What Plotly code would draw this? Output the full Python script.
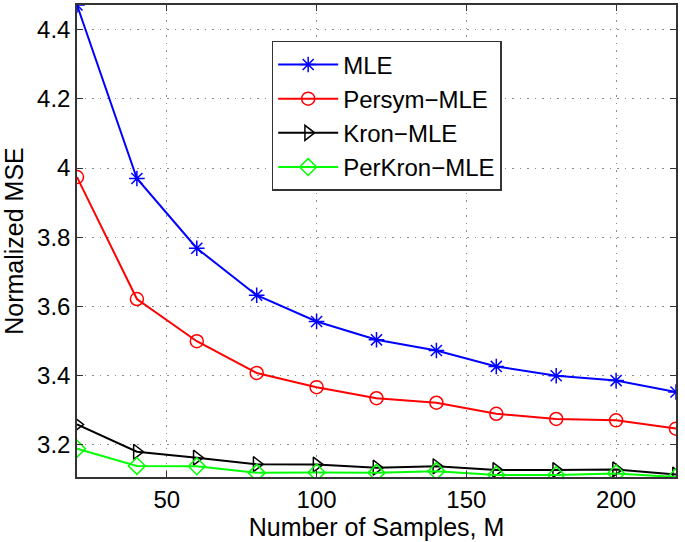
import plotly.graph_objects as go

samples = [20, 40, 60, 80, 100, 120, 140, 160, 180, 200, 220]

mle = [4.472, 3.970, 3.768, 3.632, 3.556, 3.503, 3.472, 3.426, 3.399, 3.385, 3.352]
persym_mle = [3.974, 3.621, 3.499, 3.407, 3.366, 3.334, 3.321, 3.289, 3.274, 3.270, 3.246]
kron_mle = [3.258, 3.179, 3.162, 3.143, 3.142, 3.133, 3.137, 3.126, 3.126, 3.128, 3.113]
perkron_mle = [3.188, 3.138, 3.137, 3.118, 3.119, 3.118, 3.123, 3.112, 3.112, 3.116, 3.106]

series = [
    ("MLE", mle, "#0000ff", "asterisk-open"),
    ("Persym\u2212MLE", persym_mle, "#ff0000", "circle-open"),
    ("Kron\u2212MLE", kron_mle, "#000000", "triangle-right-open"),
    ("PerKron\u2212MLE", perkron_mle, "#00ff00", "diamond-open"),
]

fig = go.Figure()
for name, vals, color, sym in series:
    fig.add_trace(go.Scatter(
        x=samples, y=vals, name=name, mode="lines+markers",
        line=dict(color=color, width=2),
        marker=dict(symbol=sym, size=13, color=color,
                    line=dict(color=color, width=1.5)),
    ))

axis_common = dict(
    showline=True, linecolor="#333333", linewidth=1.5, mirror="ticks",
    ticks="inside", ticklen=6, tickcolor="#333333",
    showgrid=True, gridcolor="#8c8c8c", griddash="1.5px,6px", gridwidth=1,
    zeroline=False, automargin=False,
    tickfont=dict(size=24, color="#000000"),
    title_font=dict(size=25, color="#000000"),
)

fig.update_xaxes(axis_common, range=[20, 220], tickvals=[50, 100, 150, 200],
                 title_text="Number of Samples, M", title_standoff=2)
fig.update_yaxes(axis_common, range=[3.106, 4.472],
                 tickvals=[3.2, 3.4, 3.6, 3.8, 4.0, 4.2, 4.4],
                 ticktext=["3.2", "3.4", "3.6", "3.8", "4", "4.2", "4.4"],
                 title_text="Normalized MSE", title_standoff=10)

fig.update_layout(
    width=685, height=542,
    margin=dict(l=77, r=9, t=5, b=65),
    paper_bgcolor="white", plot_bgcolor="white",
    font=dict(family="Liberation Sans, Arial, sans-serif", color="#000000"),
    legend=dict(x=0.325, y=0.924, xanchor="left", yanchor="top",
                bgcolor="white", bordercolor="#333333", borderwidth=1.5,
                font=dict(size=24), itemwidth=60),
    showlegend=True,
)

# page body has a default 8px margin; drop it so the figure sits at 0,0
fig.write_html("out.html", config={"displayModeBar": False},
               post_script="document.body.style.margin='0';")
